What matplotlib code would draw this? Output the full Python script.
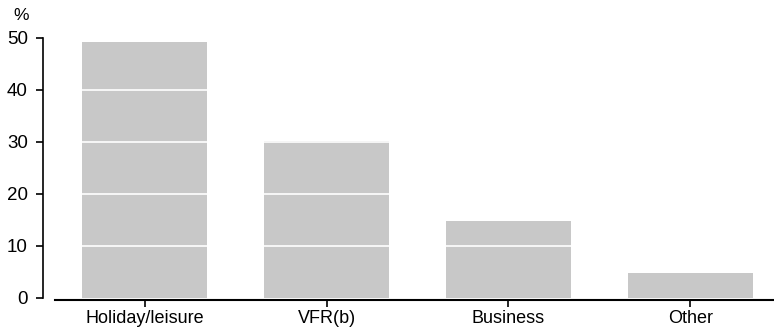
"""Purpose of trip bar chart."""

import matplotlib

matplotlib.use("Agg")
import matplotlib.pyplot as plt

categories = ["Holiday/leisure", "VFR(b)", "Business", "Other"]
values = [49.2, 30.2, 14.9, 4.9]
y_ticks = [0, 10, 20, 30, 40, 50]

plt.rcParams["font.family"] = ["Liberation Sans", "DejaVu Sans"]

fig = plt.figure(figsize=(7.74, 3.30), dpi=100)
ax = fig.add_axes([43 / 774, 32 / 330, 1 - 43 / 774, 260 / 330])

x = range(len(categories))
ax.bar(x, values, width=0.687, color="#c8c8c8", zorder=1)

# white gridlines only show across the bars
for y in y_ticks[1:-1]:
    ax.axhline(y, color="white", linewidth=1.2, zorder=2)

ax.set_xlim(-0.558, 3.459)
ax.set_ylim(0, 50)
ax.set_yticks(y_ticks)
ax.set_xticks(list(x))
ax.set_xticklabels(categories)

for side in ("top", "right"):
    ax.spines[side].set_visible(False)
ax.spines["left"].set_linewidth(1.2)
ax.spines["bottom"].set_linewidth(1.5)
ax.spines["bottom"].set_bounds(-0.49, 3.459)
ax.spines["bottom"].set_position(("outward", 1.5))

ax.tick_params(axis="y", length=5, width=1.2, labelsize=13.5, pad=6)
ax.tick_params(axis="x", length=5, width=1.2, labelsize=13, pad=2)

fig.text(21 / 774, 1 - 16 / 330, "%", fontsize=12.5, ha="center", va="center")

fig.savefig("out.png", dpi=100)
plt.close(fig)
